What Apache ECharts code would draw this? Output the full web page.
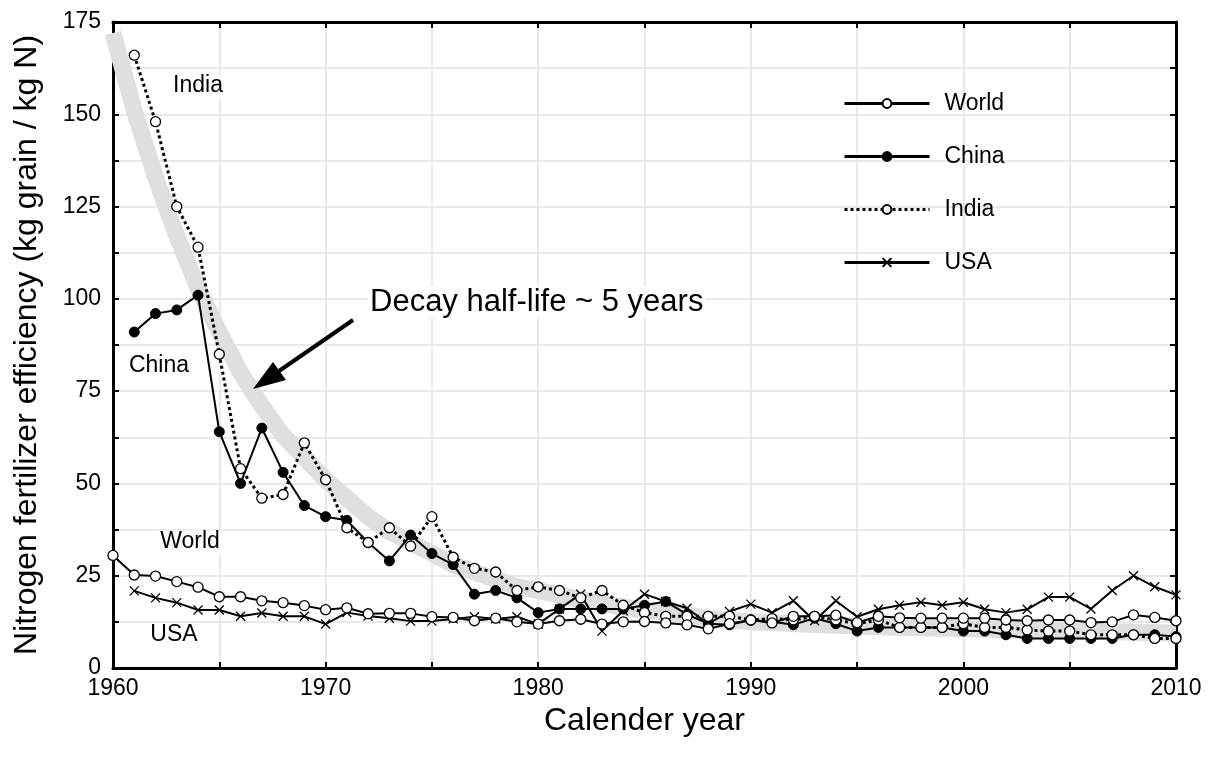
<!DOCTYPE html>
<html>
<head>
<meta charset="utf-8">
<script src="https://cdn.jsdelivr.net/npm/echarts@6/dist/echarts.min.js"></script>
<style>
  html, body { margin: 0; padding: 0; background: #fff; }
  #chart { width: 1208px; height: 760px; }
</style>
</head>
<body>
<div id="chart"></div>
<script>
// years 1960..2010
var years = [];
for (var y = 1960; y <= 2010; y++) years.push(y);

// World starts 1960, the others 1961
var world = [30.5, 25.2, 24.9, 23.4, 21.9, 19.3, 19.3, 18.2, 17.7, 16.9,
  15.8, 16.3, 14.7, 14.8, 14.8, 13.9, 13.7, 12.8, 13.5, 12.5,
  11.9, 12.8, 13.2, 11.9, 12.5, 12.6, 12.2, 11.7, 10.6, 12.0,
  13.0, 12.2, 14.0, 14.0, 14.3, 12.3, 14.0, 13.6, 13.5, 13.5,
  13.5, 13.5, 13.0, 12.8, 13.0, 13.0, 12.3, 12.5, 14.4, 13.7, 12.8];
var china = [91, 96, 97, 101, 64, 50, 65, 53, 44,
  41, 40, 34, 29, 36, 31, 28, 20, 21, 19,
  15, 16, 16, 16, 16, 17, 18, 14.5, 12, 11.7,
  13, 12.5, 11.7, 13.5, 12, 10, 11, 11, 11, 11,
  10, 10, 9, 8, 8, 8, 8, 8, 9, 9, 8.5];
var india = [166, 148, 125, 114, 85, 54, 46, 47, 61,
  51, 38, 34, 38, 33, 41, 30, 27, 26, 21,
  22, 21, 19, 21, 17, 15, 14, 14, 14, 14,
  13, 13.4, 13, 14, 13, 12, 13, 11, 11, 11,
  12, 11, 11, 10.3, 10, 10, 9, 9, 9, 8, 8];
var usa = [20.9, 19, 17.7, 15.7, 15.7, 14, 14.9, 14, 14,
  11.9, 15, 14.1, 13.5, 12.7, 12.7, 13.3, 13.9, 13.3, 13.9,
  11.9, 16, 20, 10, 15.5, 20, 18, 16.2, 12, 15.3,
  17.3, 15, 18.2, 12.8, 18.2, 13.9, 15.9, 17, 17.8, 17,
  17.8, 15.9, 15, 15.9, 19.2, 19.2, 16, 21, 25, 22, 19.8];

// grey decay band
var bandYears = [1960, 1961, 1962, 1963, 1964, 1965, 1966, 1967, 1968, 1969,
  1970, 1971, 1972, 1973, 1974, 1975, 1976, 1977, 1978, 1979,
  1980, 1982, 1984, 1986, 1988, 1990, 1993, 1996, 2000, 2005, 2010];
var bandValues = [172, 151, 133, 117, 103, 91, 80, 71, 63, 57,
  51, 46, 41, 37, 34, 31, 28, 26, 24, 22,
  21, 18.5, 16.5, 15, 13.5, 12.5, 11.8, 11.2, 10.6, 10, 9.5];

function pairs(xs, vs) {
  return vs.map(function (v, i) { return [xs[i], v]; });
}

var font = '"Liberation Sans", Arial, Helvetica, sans-serif';
var xMark = 'path://M0,0L10,10M10,0L0,10';

var chart = echarts.init(document.getElementById('chart'));

function frameAxis(extra) {
  var base = {
    type: 'value',
    axisLine: { show: true, onZero: false, lineStyle: { color: '#000', width: 3 } },
    axisTick: { show: true, inside: true, length: 6, lineStyle: { color: '#000', width: 2 } },
    axisLabel: { show: false },
    splitLine: { show: false }
  };
  return Object.assign(base, extra);
}

function label(text, x, y, size, align) {
  return {
    type: 'text', x: x, y: y, z: 100,
    style: {
      text: text, font: size + 'px ' + font, fill: '#000',
      align: align || 'center', verticalAlign: 'middle',
      backgroundColor: '#fff', padding: [0, 2]
    }
  };
}

chart.setOption({
  animation: false,
  backgroundColor: '#fff',
  textStyle: { fontFamily: font },
  grid: { left: 113, right: 32, top: 22, bottom: 92 },
  legend: {
    orient: 'vertical',
    left: 838,
    top: 87,
    itemWidth: 85,
    itemHeight: 11,
    itemGap: 30,
    lineStyle: { width: 3 },
    textStyle: { fontSize: 23, color: '#000', fontFamily: font, padding: [0, 0, 0, 10] },
    data: ['World', 'China', 'India', 'USA']
  },
  xAxis: [
    frameAxis({
      position: 'bottom', min: 1960, max: 2010, interval: 5,
      axisLabel: {
        show: true, fontSize: 23, color: '#000', margin: 9,
        formatter: function (v) { return v % 10 === 0 ? String(v) : ''; }
      },
      splitLine: { show: true, lineStyle: { color: '#e3e3e3', width: 1.5 } },
      name: 'Calender year', nameLocation: 'middle', nameGap: 33,
      nameTextStyle: { fontSize: 32, color: '#000', fontFamily: font }
    }),
    frameAxis({ position: 'top', min: 1960, max: 2010, interval: 5 })
  ],
  yAxis: [
    frameAxis({
      position: 'left', min: 0, max: 175, interval: 12.5,
      axisLabel: {
        show: true, fontSize: 23, color: '#000', margin: 12,
        formatter: function (v) { return v % 25 === 0 ? String(v) : ''; }
      },
      splitLine: { show: true, lineStyle: { color: '#e3e3e3', width: 1.5 } },
      name: 'Nitrogen fertilizer efficiency (kg grain / kg N)', nameLocation: 'middle', nameGap: 70,
      nameTextStyle: { fontSize: 32, color: '#000', fontFamily: font }
    }),
    frameAxis({ position: 'right', min: 0, max: 175, interval: 12.5 })
  ],
  series: [
    {
      name: 'band', type: 'line', data: pairs(bandYears, bandValues),
      symbol: 'none', clip: false, z: 1, silent: true,
      lineStyle: { color: '#dfdfdf', width: 17, cap: 'butt', join: 'round' }
    },
    {
      name: 'USA', type: 'line', data: pairs(years.slice(1), usa),
      symbol: xMark, symbolSize: 9, showAllSymbol: true, z: 3,
      itemStyle: { color: 'rgba(0,0,0,0)', borderColor: '#000', borderWidth: 1.3 },
      lineStyle: { color: '#000', width: 2 }
    },
    {
      name: 'China', type: 'line', data: pairs(years.slice(1), china),
      symbol: 'circle', symbolSize: 10, showAllSymbol: true, z: 4,
      itemStyle: { color: '#000', borderColor: '#000', borderWidth: 1 },
      lineStyle: { color: '#000', width: 2 }
    },
    {
      name: 'India', type: 'line', data: pairs(years.slice(1), india),
      symbol: 'circle', symbolSize: 10, showAllSymbol: true, z: 5,
      itemStyle: { color: '#fff', borderColor: '#000', borderWidth: 1.3 },
      lineStyle: { color: '#000', width: 3, type: [3, 3], cap: 'butt' }
    },
    {
      name: 'World', type: 'line', data: pairs(years, world),
      symbol: 'circle', symbolSize: 10, showAllSymbol: true, z: 6,
      itemStyle: { color: '#fff', borderColor: '#000', borderWidth: 1.3 },
      lineStyle: { color: '#000', width: 2 }
    }
  ],
  graphic: [
    label('India', 198, 86, 23),
    label('China', 159, 366, 23),
    label('World', 190, 542, 23),
    label('USA', 174, 635, 23),
    label('Decay half-life ~ 5 years', 368, 302, 31, 'left'),
    { type: 'line', z: 100, shape: { x1: 353, y1: 320, x2: 279, y2: 371 }, style: { stroke: '#000', lineWidth: 4 } },
    { type: 'polygon', z: 100, shape: { points: [[253, 389], [286, 380], [273, 362]] }, style: { fill: '#000' } }
  ]
});
</script>
</body>
</html>
